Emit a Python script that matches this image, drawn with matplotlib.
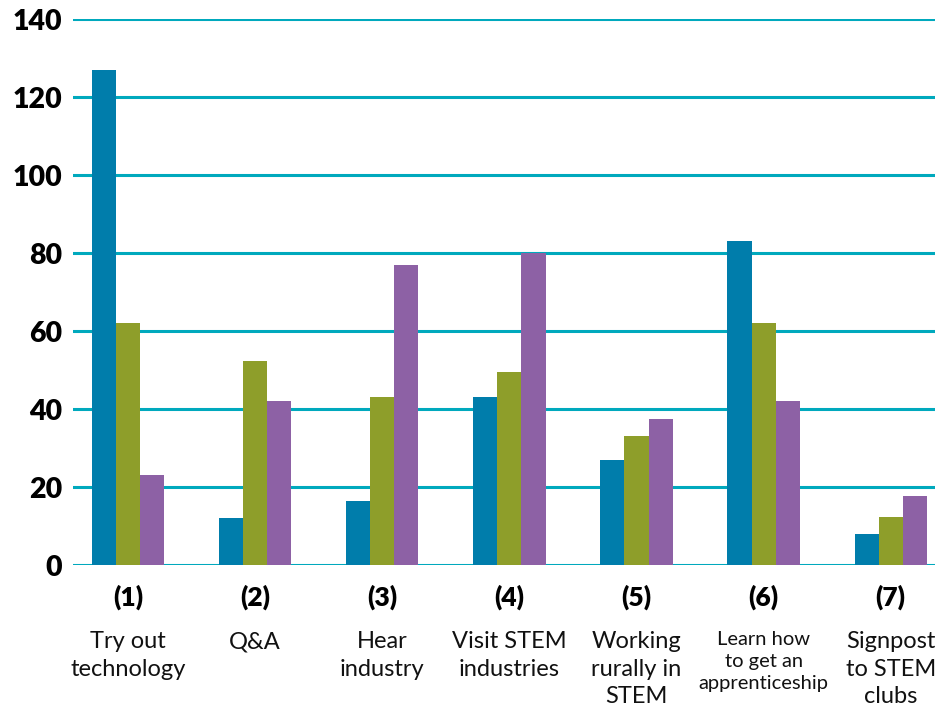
import numpy as np
import matplotlib
matplotlib.use("Agg")
from matplotlib import pyplot as plt

plt.rcParams['font.family'] = ['Lato', 'DejaVu Sans']

numbers = ['(1)', '(2)', '(3)', '(4)', '(5)', '(6)', '(7)']
names = ['Try out\ntechnology', 'Q&A', 'Hear\nindustry', 'Visit STEM\nindustries',
         'Working\nrurally in\nSTEM', 'Learn how\nto get an\napprenticeship', 'Signpost\nto STEM\nclubs']
series_a = [127, 12, 16.5, 43, 27, 83, 8]
series_b = [62, 52.3, 43, 49.5, 33, 62, 12.3]
series_c = [23, 42, 77, 80, 37.5, 42, 17.7]

colors = ['#007dab', '#8e9e2a', '#8d61a5']
grid_color = '#00a9bd'

fig = plt.figure(figsize=(9.39, 7.07), dpi=100)
ax = fig.add_axes([0.078, 0.2008, 0.918, 0.7723])

x = np.arange(len(numbers))
w = 0.19
for i, (vals, c) in enumerate(zip([series_a, series_b, series_c], colors)):
    ax.bar(x + (i - 1) * w, vals, width=w, color=c, zorder=3)

ax.set_ylim(0, 140)
ax.set_xlim(-0.43, 6.35)
ax.set_yticks(range(0, 141, 20))
ax.yaxis.grid(True, color=grid_color, linewidth=2.2, zorder=0)
ax.set_axisbelow(True)
for s in ax.spines.values():
    s.set_visible(False)
ax.tick_params(axis='y', length=0, pad=8, labelsize=20.5)
for lab in ax.get_yticklabels():
    lab.set_fontweight('heavy')

ax.set_xticks(x)
ax.set_xticklabels(numbers, fontsize=19, fontweight='heavy')
ax.tick_params(axis='x', length=0, pad=14)

trans = ax.get_xaxis_transform()
for xi, name in zip(x, names):
    small = 'apprenticeship' in name
    ax.text(xi, -0.121, name, transform=trans, ha='center', va='top',
            fontsize=14.5 if small else 17, linespacing=1.35 if small else 1.38,
            color='#111111')

fig.savefig('out.png', dpi=100)
